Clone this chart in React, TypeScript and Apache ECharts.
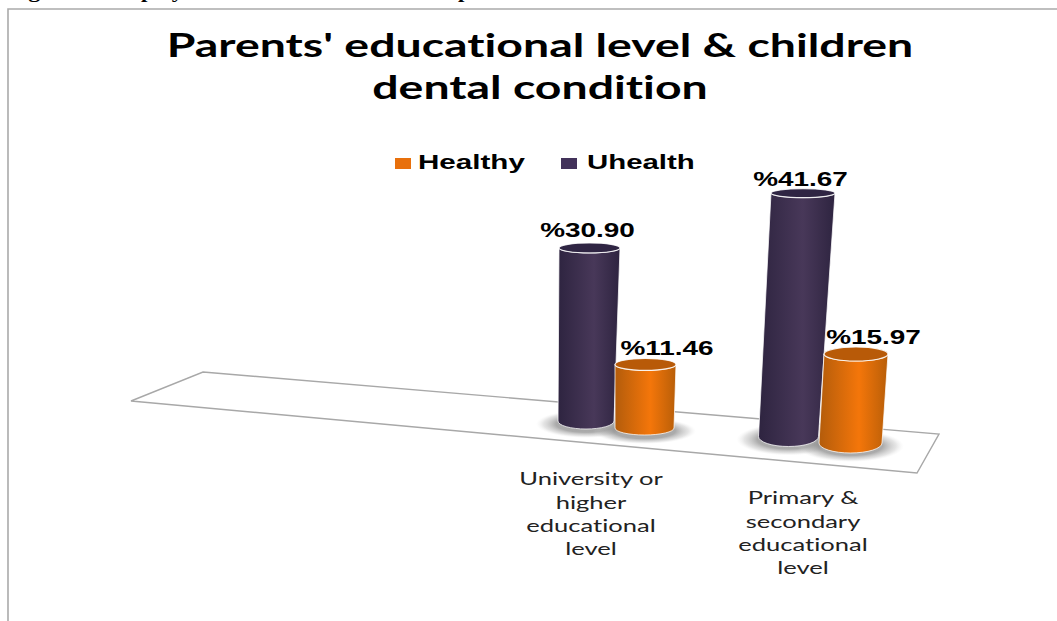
import React, { useEffect, useRef } from "react";
import * as echarts from "echarts";

const categories = [
  "University or\nhigher\neducational\nlevel",
  "Primary &\nsecondary\neducational\nlevel",
];
const healthy = [11.46, 15.97];
const uhealth = [30.9, 41.67];
const legendNames = ["Healthy", "Uhealth"];
const titleLines = ["Parents' educational level & children", "dental condition"];

const BAR_FONT = "'Liberation Sans', Arial, sans-serif";
const AXIS_FONT = "Lato, sans-serif";
const ORANGE = "#e8700c";
const PURPLE = "#42325a";

// Perspective of each cylinder relative to its category slot on the tilted floor.
type Persp = {
  dx: number; dy: number; depth: number; lean: number;
  hwTop: number; hwBase: number; ryTop: number; ryBase: number;
  labelDx: number; labelDy: number;
};
const healthyPersp: Persp[] = [
  { dx: 53.5, dy: -12, depth: 0.99, lean: 1, hwTop: 30.5, hwBase: 29.5, ryTop: 6, ryBase: 7, labelDx: 21.5, labelDy: -16.5 },
  { dx: 47.5, dy: 3, depth: 0.995, lean: 5.5, hwTop: 32, hwBase: 31.5, ryTop: 7, ryBase: 10, labelDx: 17.5, labelDy: -17 },
];
const uhealthPersp: Persp[] = [
  { dx: -5, dy: -19, depth: 1, lean: 3.5, hwTop: 30.5, hwBase: 28, ryTop: 5, ryBase: 8, labelDx: -2, labelDy: -18 },
  { dx: -14.5, dy: -3.5, depth: 1.043, lean: 14.5, hwTop: 32, hwBase: 30, ryTop: 4.5, ryBase: 10, labelDx: -2.5, labelDy: -14 },
];
const labelOffsets = [27, 46];

const ellipseShape = (cx: number, cy: number, rx: number, ry: number) => ({
  pathData: `M${cx - rx} ${cy}A${rx} ${ry} 0 1 1 ${cx + rx} ${cy}A${rx} ${ry} 0 1 1 ${cx - rx} ${cy}Z`,
  layout: "cover",
  x: cx - rx,
  y: cy - ry,
  width: 2 * rx,
  height: 2 * ry,
});

function cylinderRenderer(persp: Persp[], edgeL: string, mid: string, edgeR: string, cap: string) {
  return (params: any, api: any) => {
    const i = api.value(0) as number;
    const v = api.value(1) as number;
    const p = persp[i];
    const zero = api.coord([i, 0]);
    const h = api.size([0, v])[1] * p.depth;
    const bx = zero[0] + p.dx;
    const by = zero[1] + p.dy;
    const tx = bx + p.lean;
    const ty = by - h;
    const fill = new echarts.graphic.LinearGradient(0, 0, 1, 0, [
      { offset: 0, color: edgeL },
      { offset: 0.58, color: mid },
      { offset: 1, color: edgeR },
    ]);
    const side =
      `M${tx - p.hwTop} ${ty}L${bx - p.hwBase} ${by}` +
      `A${p.hwBase} ${p.ryBase} 0 0 0 ${bx + p.hwBase} ${by}` +
      `L${tx + p.hwTop} ${ty}` +
      `A${p.hwTop} ${p.ryTop} 0 0 1 ${tx - p.hwTop} ${ty}Z`;
    const left = Math.min(tx - p.hwTop, bx - p.hwBase);
    const right = Math.max(tx + p.hwTop, bx + p.hwBase);
    return {
      type: "group",
      children: [
        {
          type: "path",
          shape: { pathData: side, layout: "cover", x: left, y: ty, width: right - left, height: by + p.ryBase - ty },
          style: { fill, stroke: "rgba(255,255,255,0.75)", lineWidth: 1 },
        },
        {
          type: "path",
          shape: ellipseShape(tx, ty, p.hwTop, p.ryTop),
          style: { fill: cap, stroke: "rgba(255,255,255,0.85)", lineWidth: 1.2 },
        },
        {
          type: "text",
          x: tx + p.labelDx,
          y: ty + p.labelDy,
          scaleX: 1.33,
          style: {
            text: "%" + v.toFixed(2),
            fill: "#000",
            font: `bold 21px ${BAR_FONT}`,
            align: "center",
            verticalAlign: "middle",
          },
        },
      ],
    };
  };
}

function shadowRenderer(persp: Persp[]) {
  return (params: any, api: any) => {
    const i = api.value(0) as number;
    const p = persp[i];
    const zero = api.coord([i, 0]);
    const fill = new echarts.graphic.RadialGradient(0.5, 0.5, 0.5, [
      { offset: 0, color: "rgba(125,125,125,0.75)" },
      { offset: 0.6, color: "rgba(135,135,135,0.7)" },
      { offset: 0.85, color: "rgba(180,180,180,0.35)" },
      { offset: 1, color: "rgba(225,225,225,0)" },
    ]);
    return {
      type: "path",
      shape: ellipseShape(zero[0] + p.dx, zero[1] + p.dy + 3, p.hwBase + 22, p.ryBase + 6),
      style: { fill },
    };
  };
}

function categoryLabelRenderer(params: any, api: any) {
  const i = api.value(0) as number;
  const zero = api.coord([i, 0]);
  return {
    type: "text",
    x: zero[0],
    y: zero[1] + labelOffsets[i],
    scaleX: 1.46,
    style: {
      text: categories[i],
      fill: "#222",
      font: `17.5px ${AXIS_FONT}`,
      lineHeight: 23.3,
      align: "center",
      verticalAlign: "top",
    },
  };
}

const toSeriesData = (values: number[]) => values.map((v, i) => [i, v]);

const legendItem = (name: string, color: string, iconX: number, textX: number, scaleX: number) => [
  { type: "rect", z: 5, shape: { x: iconX, y: 158, width: 16, height: 11 }, style: { fill: color } },
  {
    type: "text",
    z: 5,
    x: textX,
    y: 162,
    scaleX,
    style: { text: name, font: `bold 21px ${BAR_FONT}`, fill: "#000", verticalAlign: "middle" },
  },
];

const captionFragment = (text: string, x: number) => ({
  type: "text",
  x,
  y: -16.8,
  scaleX: 1.35,
  style: { text, font: "bold 17px 'Liberation Serif', serif", fill: "#000" },
});

const titleLine = (text: string, y: number) => ({
  type: "text",
  x: 540,
  y,
  scaleX: 1.407,
  style: { text, font: "bold 33px Lato, sans-serif", fill: "#000", align: "center", verticalAlign: "middle" },
});

export default function App() {
  const ref = useRef<HTMLDivElement>(null);
  useEffect(() => {
    document.body.style.margin = "0";
    const chart = echarts.init(ref.current!, undefined, { renderer: "svg" });
    chart.setOption({
      animation: false,
      backgroundColor: "#fff",
      grid: { left: 485, top: 160, width: 424, height: 280 },
      xAxis: {
        type: "category",
        data: categories,
        axisLine: { show: false },
        axisTick: { show: false },
        axisLabel: { show: false },
      },
      yAxis: { type: "value", min: 0, max: 50, show: false },
      graphic: [
        {
          type: "polyline",
          z: 0,
          shape: { points: [[8, 621], [8, 9], [1057, 9]] },
          style: { stroke: "#aaaaaa", lineWidth: 1.6, fill: "none" },
        },
        {
          type: "polygon",
          z: 0,
          shape: { points: [[203, 372], [939, 434], [917, 473], [131, 401]] },
          style: { stroke: "#a8a8a8", lineWidth: 1.4, fill: "#fff" },
        },
        captionFragment("Figure", 8),
        captionFragment("display", 113),
        captionFragment("p", 458),
        titleLine(titleLines[0], 44),
        titleLine(titleLines[1], 86),
        ...legendItem(legendNames[0], ORANGE, 395, 418, 1.41),
        ...legendItem(legendNames[1], PURPLE, 561, 587, 1.4),
      ],
      series: [
        {
          type: "custom",
          name: "shadowU",
          z: 1,
          silent: true,
          renderItem: shadowRenderer(uhealthPersp),
          data: toSeriesData(uhealth),
        },
        {
          type: "custom",
          name: "shadowH",
          z: 1,
          silent: true,
          renderItem: shadowRenderer(healthyPersp),
          data: toSeriesData(healthy),
        },
        {
          type: "custom",
          name: legendNames[1],
          z: 2,
          itemStyle: { color: PURPLE },
          renderItem: cylinderRenderer(uhealthPersp, "#2e2440", "#483859", "#2e2440", "#2f2543"),
          encode: { x: 0, y: 1 },
          data: toSeriesData(uhealth),
        },
        {
          type: "custom",
          name: legendNames[0],
          z: 3,
          itemStyle: { color: ORANGE },
          renderItem: cylinderRenderer(healthyPersp, "#b35c0b", "#f4760a", "#b85e08", "#b85a08"),
          encode: { x: 0, y: 1 },
          data: toSeriesData(healthy),
        },
        {
          type: "custom",
          name: "categoryLabels",
          z: 4,
          silent: true,
          renderItem: categoryLabelRenderer,
          data: categories.map((_, i) => [i, 0]),
        },
      ],
    });
    return () => chart.dispose();
  }, []);
  return (
    <>
      <style>{"svg text { font-variant-ligatures: none !important; }"}</style>
      <div ref={ref} style={{ position: "fixed", left: 0, top: 0, width: 1057, height: 621 }} />
    </>
  );
}
